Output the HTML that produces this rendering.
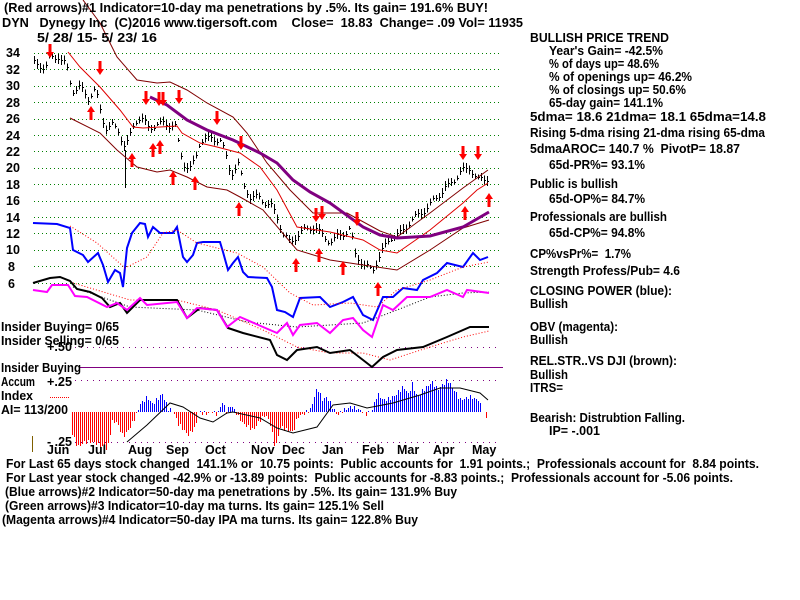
<!DOCTYPE html>
<html><head><meta charset="utf-8"><style>
body{margin:0;background:#fff;}
svg{display:block;font-family:"Liberation Sans",sans-serif;font-weight:bold;font-size:12.5px;}
text{white-space:pre;}
</style></head><body>
<svg id="s" width="800" height="600" xmlns="http://www.w3.org/2000/svg" xml:space="preserve">
<rect width="800" height="600" fill="#fff"/>
<g id="grid"></g>
<g id="plots"></g>
<g fill="#000">
<text x="4" y="12" textLength="484" lengthAdjust="spacingAndGlyphs">(Red arrows)#1 Indicator=10-day ma penetrations by .5%. Its gain= 191.6% BUY!</text>
<text x="2" y="27" textLength="521" lengthAdjust="spacingAndGlyphs">DYN   Dynegy Inc  (C)2016 www.tigersoft.com    Close=  18.83  Change= .09 Vol= 11935</text>
<text x="37" y="42" textLength="120" lengthAdjust="spacingAndGlyphs">5/ 28/ 15- 5/ 23/ 16</text>
<text x="6" y="57">34</text><text x="6" y="74">32</text><text x="6" y="90">30</text><text x="6" y="107">28</text><text x="6" y="123">26</text><text x="6" y="140">24</text><text x="6" y="156">22</text><text x="6" y="172">20</text><text x="6" y="189">18</text><text x="6" y="205">16</text><text x="6" y="222">14</text><text x="6" y="238">12</text><text x="6" y="254">10</text><text x="8" y="271">8</text><text x="8" y="288">6</text>
<text x="1" y="331" textLength="118" lengthAdjust="spacingAndGlyphs">Insider Buying= 0/65</text>
<text x="1" y="345" textLength="118" lengthAdjust="spacingAndGlyphs">Insider Selling= 0/65</text>
<text x="47" y="351" textLength="25" lengthAdjust="spacingAndGlyphs">+.50</text>
<text x="1" y="372" textLength="80" lengthAdjust="spacingAndGlyphs">Insider Buying</text>
<text x="1" y="386" textLength="34" lengthAdjust="spacingAndGlyphs">Accum</text><text x="47" y="386" textLength="25" lengthAdjust="spacingAndGlyphs">+.25</text>
<text x="1" y="400" textLength="32" lengthAdjust="spacingAndGlyphs">Index</text>
<text x="1" y="414" textLength="67" lengthAdjust="spacingAndGlyphs">AI= 113/200</text>
<text x="47" y="446">- .25</text>
<text x="47" y="454">Jun</text><text x="88" y="454">Jul</text><text x="128" y="454">Aug</text><text x="166" y="454">Sep</text><text x="205" y="454">Oct</text><text x="251" y="454">Nov</text><text x="282" y="454">Dec</text><text x="322" y="454">Jan</text><text x="362" y="454">Feb</text><text x="397" y="454">Mar</text><text x="433" y="454">Apr</text><text x="472" y="454">May</text>
<text x="6" y="468" textLength="753" lengthAdjust="spacingAndGlyphs">For Last 65 days stock changed  141.1% or  10.75 points:  Public accounts for  1.91 points.;  Professionals account for  8.84 points.</text>
<text x="6" y="482" textLength="727" lengthAdjust="spacingAndGlyphs">For Last year stock changed -42.9% or -13.89 points:  Public accounts for -8.83 points.;  Professionals account for -5.06 points.</text>
<text x="5" y="496" textLength="452" lengthAdjust="spacingAndGlyphs">(Blue arrows)#2 Indicator=50-day ma penetrations by .5%. Its gain= 131.9% Buy</text>
<text x="5" y="510" textLength="379" lengthAdjust="spacingAndGlyphs">(Green arrows)#3 Indicator=10-day ma turns. Its gain= 125.1% Sell</text>
<text x="2" y="524" textLength="416" lengthAdjust="spacingAndGlyphs">(Magenta arrows)#4 Indicator=50-day IPA ma turns. Its gain= 122.8% Buy</text>
<text x="530" y="42" textLength="139" lengthAdjust="spacingAndGlyphs">BULLISH PRICE TREND</text>
<text x="549" y="55" textLength="114" lengthAdjust="spacingAndGlyphs">Year's Gain= -42.5%</text>
<text x="549" y="68" textLength="110" lengthAdjust="spacingAndGlyphs">% of days up= 48.6%</text>
<text x="549" y="81" textLength="143" lengthAdjust="spacingAndGlyphs">% of openings up= 46.2%</text>
<text x="549" y="94" textLength="137" lengthAdjust="spacingAndGlyphs">% of closings up= 50.6%</text>
<text x="549" y="107" textLength="114" lengthAdjust="spacingAndGlyphs">65-day gain= 141.1%</text>
<text x="530" y="121" textLength="236" lengthAdjust="spacingAndGlyphs">5dma= 18.6 21dma= 18.1 65dma=14.8</text>
<text x="530" y="137" textLength="235" lengthAdjust="spacingAndGlyphs">Rising 5-dma rising 21-dma rising 65-dma</text>
<text x="530" y="153" textLength="210" lengthAdjust="spacingAndGlyphs">5dmaAROC= 140.7 %  PivotP= 18.87</text>
<text x="549" y="169" textLength="96" lengthAdjust="spacingAndGlyphs">65d-PR%= 93.1%</text>
<text x="530" y="188" textLength="88" lengthAdjust="spacingAndGlyphs">Public is bullish</text>
<text x="549" y="203" textLength="96" lengthAdjust="spacingAndGlyphs">65d-OP%= 84.7%</text>
<text x="530" y="221" textLength="137" lengthAdjust="spacingAndGlyphs">Professionals are bullish</text>
<text x="549" y="237" textLength="96" lengthAdjust="spacingAndGlyphs">65d-CP%= 94.8%</text>
<text x="530" y="258" textLength="101" lengthAdjust="spacingAndGlyphs">CP%vsPr%=  1.7%</text>
<text x="530" y="275" textLength="150" lengthAdjust="spacingAndGlyphs">Strength Profess/Pub= 4.6</text>
<text x="530" y="295" textLength="142" lengthAdjust="spacingAndGlyphs">CLOSING POWER (blue):</text>
<text x="530" y="308" textLength="38" lengthAdjust="spacingAndGlyphs">Bullish</text>
<text x="530" y="331" textLength="88" lengthAdjust="spacingAndGlyphs">OBV (magenta):</text>
<text x="530" y="344" textLength="38" lengthAdjust="spacingAndGlyphs">Bullish</text>
<text x="530" y="365" textLength="147" lengthAdjust="spacingAndGlyphs">REL.STR..VS DJI (brown):</text>
<text x="530" y="379" textLength="38" lengthAdjust="spacingAndGlyphs">Bullish</text>
<text x="530" y="392" textLength="33" lengthAdjust="spacingAndGlyphs">ITRS=</text>
<text x="530" y="422" textLength="155" lengthAdjust="spacingAndGlyphs">Bearish: Distrubtion Falling.</text>
<text x="549" y="435" textLength="51" lengthAdjust="spacingAndGlyphs">IP= -.001</text>
</g>
<line x1="32.5" y1="436" x2="32.5" y2="452" stroke="#806000" stroke-width="1"/>
<line x1="50" y1="397.5" x2="70" y2="397.5" stroke="#ff0000" stroke-dasharray="1 1"/>
</svg>
<script>
var NS="http://www.w3.org/2000/svg",g=document.getElementById("grid"),pl=document.getElementById("plots");
function el(p,t,a){var e=document.createElementNS(NS,t);for(var k in a)e.setAttribute(k,a[k]);p.appendChild(e);return e;}
for(var i=0;i<15;i++){var y=Math.round(53+i*16.4)+0.5;el(g,"line",{x1:34,x2:500,y1:y,y2:y,stroke:"#008000","stroke-dasharray":"1 3"});}
[347.5,380.5,442.5].forEach(function(y){el(g,"line",{x1:75,x2:500,y1:y,y2:y,stroke:"#800080","stroke-dasharray":"1 5"});});
el(g,"line",{x1:80,x2:503,y1:367.5,y2:367.5,stroke:"#800080"});
function py(p){return 53+(34-p)*8.2;}
function interp(pts,x){for(var i=1;i<pts.length;i++)if(x<=pts[i][0]){var a=pts[i-1],b=pts[i],t=(x-a[0])/(b[0]-a[0]);return a[1]+t*(b[1]-a[1]);}return pts[pts.length-1][1];}
function line(pts,col,w,dash){var d="";pts.forEach(function(p,i){d+=(i?"L":"M")+p[0]+" "+p[1];});var a={d:d,fill:"none",stroke:col,"stroke-width":w};if(dash)a["stroke-dasharray"]=dash;el(pl,"path",a);}
var price=[[34,32.8],[45,32.2],[50,33.5],[58,33.6],[66,32.5],[72,29.5],[80,29.8],[88,28.5],[95,29.6],[100,27],[105,25],[112,25.2],[118,24.5],[125,22.5],[130,24],[135,25.8],[140,26.2],[148,25],[155,25.2],[165,25.5],[175,25],[178,23],[183,20.5],[190,20],[195,21],[200,23.5],[210,23.5],[220,23.5],[225,21.8],[228,20],[232,19.5],[238,20.5],[243,18],[250,16.5],[260,16.3],[270,15.5],[275,14.5],[283,12],[290,10.8],[298,12],[305,12.5],[315,12.8],[320,12],[330,11],[340,11.8],[350,12.5],[355,9.5],[365,8],[372,7.5],[380,9.5],[390,11.5],[400,12],[410,13.5],[420,14.5],[430,15.5],[440,17],[450,18],[460,19.5],[470,20],[478,18.5],[488,18.8]];
var d="";for(var x=34;x<=488;x+=3){var p=interp(price,x)+Math.sin(x*1.7)*0.4,y=Math.round(py(p)),h=Math.round(4+Math.abs(Math.sin(x*0.9))*6);d+="M"+(x+0.5)+" "+(y-h/2)+"V"+(y+h/2)+"M"+x+" "+(y+0.5)+"h2";}
el(pl,"path",{d:d,stroke:"#000","stroke-width":1,fill:"none","shape-rendering":"crispEdges"});
el(pl,"line",{x1:125.5,x2:125.5,y1:150,y2:188,stroke:"#000"});
// 21dma
line([[68,52],[80,67],[100,87],[120,110],[133,127],[143,128],[177,126],[182,133],[200,143],[217,147],[240,153],[260,167],[277,190],[297,227],[330,232],[363,240],[380,250],[397,253],[430,230],[463,203],[477,190],[488,183]],"#e00000",1);
// upper band
line([[83,0],[100,23],[117,57],[137,80],[157,83],[170,82],[187,90],[207,103],[233,117],[247,133],[267,163],[290,190],[313,213],[347,213],[380,231],[397,237],[430,213],[463,188],[488,170]],"#800000",1);
// lower band
line([[70,118],[100,133],[117,150],[137,167],[157,172],[170,170],[187,177],[207,187],[227,190],[240,197],[263,210],[297,250],[330,260],[363,265],[397,270],[430,250],[463,228],[489,220]],"#800000",1);
// 65dma
line([[150,97],[167,105],[187,120],[207,130],[233,140],[260,153],[277,163],[293,180],[310,192],[330,203],[363,227],[380,235],[397,238],[430,236],[463,227],[489,212]],"#800080",3);
// CP blue
line([[33,223],[57,224],[70,228],[73,250],[83,255],[88,262],[98,253],[103,265],[108,282],[115,270],[120,273],[123,287],[127,248],[132,233],[140,223],[145,224],[148,237],[153,227],[160,233],[173,233],[177,227],[183,257],[187,262],[193,255],[197,243],[203,242],[220,242],[223,252],[228,270],[233,263],[238,257],[243,272],[248,277],[267,278],[272,287],[277,310],[285,312],[293,317],[300,298],[320,297],[330,307],[343,302],[353,297],[363,315],[373,320],[383,297],[393,297],[403,288],[417,290],[423,280],[437,273],[447,263],[463,267],[473,253],[480,260],[488,257]],"#0000ff",2);
// red dotted on blue
line([[70,226],[97,243],[125,268],[147,257],[163,233],[177,230],[197,243],[237,253],[263,267],[290,293],[313,305],[350,303],[377,307],[397,290],[430,280],[463,267],[489,262]],"#ff0000",1,"1 2");
// black dotted and red dotted
line([[73,287],[130,307],[197,310],[247,322],[297,327],[330,325],[363,323],[397,310],[430,297],[463,293],[489,292]],"#000",1,"1 2");
line([[70,282],[130,300],[177,300],[217,310],[263,330],[297,347],[330,353],[363,353],[390,360],[430,347],[463,337],[489,331]],"#ff0000",1,"1 2");
// OBV black
line([[33,283],[50,278],[60,277],[70,281],[77,289],[90,292],[102,298],[110,307],[120,303],[127,313],[140,300],[177,300],[187,318],[200,308],[217,310],[228,328],[243,333],[270,340],[277,355],[287,360],[297,350],[317,347],[330,353],[350,350],[363,360],[372,367],[383,357],[397,350],[423,347],[447,337],[470,327],[489,327]],"#000",2);
// magenta
line([[33,290],[47,292],[52,285],[68,285],[75,296],[87,297],[107,307],[117,303],[127,310],[140,298],[147,305],[177,302],[187,318],[197,308],[217,310],[227,327],[240,317],[263,327],[277,333],[287,323],[293,335],[300,325],[317,323],[330,333],[343,320],[353,318],[363,330],[372,337],[383,305],[393,310],[407,297],[430,297],[447,290],[463,297],[467,290],[489,293]],"#ff00ff",2);
// AI histogram
var base=412,ai=[[70,0],[72,-22],[77,-35],[85,-30],[93,-30],[100,-34],[107,-38],[112,-10],[116,-10],[123,-25],[130,-15],[135,-5],[140,8],[147,15],[152,8],[162,18],[168,3],[173,0],[178,-12],[188,-23],[195,-15],[198,0],[207,-2],[212,1],[217,-3],[222,10],[226,0],[231,7],[235,0],[243,-12],[253,-18],[260,-8],[265,-2],[270,-12],[275,-37],[280,-15],[293,-20],[297,-5],[303,-2],[310,2],[317,25],[322,12],[327,15],[332,5],[337,-3],[343,2],[350,5],[360,2],[365,-3],[372,2],[377,18],[383,12],[393,15],[403,25],[408,18],[412,28],[417,15],[423,22],[432,30],[437,22],[447,32],[453,23],[460,12],[470,15],[478,12],[483,0],[486,-5],[488,0]];
var db="",dr="";for(var x=70;x<=488;x+=2){var v=Math.round(interp(ai,x)+Math.sin(x*1.3)*2);var s="M"+(x+0.5)+" "+base+"V"+(base-v);if(v>=0)db+=s;else dr+=s;}
el(pl,"path",{d:db,stroke:"#0000ff","stroke-width":1,"shape-rendering":"crispEdges"});el(pl,"path",{d:dr,stroke:"#ff0000","stroke-width":1,"shape-rendering":"crispEdges"});
line([[127,442],[147,425],[170,403],[183,407],[200,418],[213,422],[227,413],[233,412],[260,418],[277,428],[293,433],[317,427],[333,405],[350,403],[367,408],[393,403],[420,395],[440,388],[460,388],[480,393],[488,400]],"#000",1);
// arrows
function arr(x,y,up){var d=up?"M"+x+" "+y+"l-4 6h2.5v8h3v-8h2.5z":"M"+x+" "+y+"l-4 -6h2.5v-8h3v8h2.5z";el(pl,"path",{d:d,fill:"#f00"});}
[[50,58],[100,75],[146,105],[159,106],[163,106],[179,104],[217,125],[241,150],[316,222],[322,220],[357,226],[463,160],[478,160]].forEach(function(a){arr(a[0],a[1],false);});
[[91,106],[132,153],[153,143],[160,140],[173,171],[195,176],[239,202],[296,258],[319,248],[343,261],[378,282],[465,206],[489,193]].forEach(function(a){arr(a[0],a[1],true);});
</script>
</body></html>
